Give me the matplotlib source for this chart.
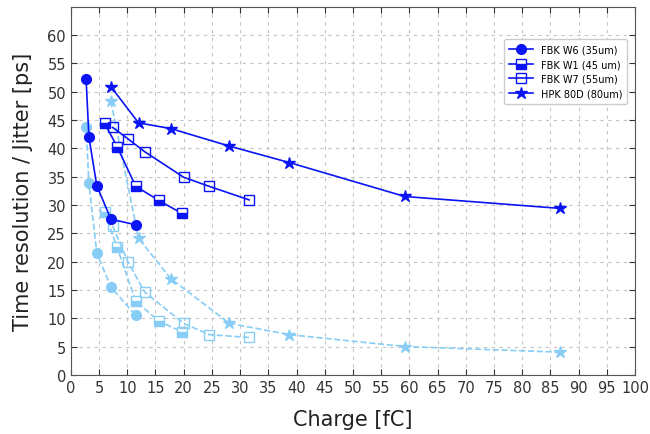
import matplotlib
matplotlib.use("Agg")
import matplotlib.pyplot as plt

# FBK W6 (35um)
w6_charge = [2.7, 3.2, 4.6, 7.1, 11.5]
w6_res = [52.3, 42.0, 33.4, 27.5, 26.5]
w6_jit = [43.8, 33.8, 21.5, 15.5, 10.5]

# FBK W1 (45 um)
w1_charge = [6.0, 8.2, 11.5, 15.6, 19.7]
w1_res = [44.4, 40.3, 33.3, 30.8, 28.5]
w1_jit = [28.8, 22.5, 13.0, 9.5, 7.6]

# FBK W7 (55um)
w7_charge = [7.4, 10.1, 13.1, 20.0, 24.5, 31.6]
w7_res = [43.7, 41.7, 39.4, 34.9, 33.3, 30.9]
w7_jit = [26.3, 20.0, 14.6, 9.1, 7.1, 6.6]

# HPK 80D (80um)
hpk_charge = [7.1, 12.0, 17.7, 28.1, 38.7, 59.2, 86.7]
hpk_res = [50.9, 44.5, 43.5, 40.4, 37.5, 31.5, 29.4]
hpk_jit = [48.3, 24.1, 17.0, 9.1, 7.1, 5.0, 4.0]

x_ticks = list(range(0, 101, 5))
y_ticks = list(range(0, 61, 5))

dark = "#0a14f5"
light = "#87cdf5"

fig = plt.figure(figsize=(6.5, 4.35), dpi=100)
ax = fig.add_axes([0.109, 0.136, 0.868, 0.846])

lw = 1.2
ms_c, ms_s, ms_st = 7, 7, 9
# resolution (dark, solid)
ax.plot(w6_charge, w6_res, '-', color=dark, lw=lw, marker='o', ms=ms_c, mfc=dark, mec=dark, label='FBK W6 (35um)', zorder=3)
ax.plot(w1_charge, w1_res, '-', color=dark, lw=lw, marker='s', ms=ms_s, fillstyle='bottom', mfc=dark, mfcalt='white', mec=dark, label='FBK W1 (45 um)', zorder=3)
ax.plot(w7_charge, w7_res, '-', color=dark, lw=lw, marker='s', ms=ms_s, mfc='none', mec=dark, mew=1.0, label='FBK W7 (55um)', zorder=3)
ax.plot(hpk_charge, hpk_res, '-', color=dark, lw=lw, marker='*', ms=ms_st, mfc=dark, mec=dark, label='HPK 80D (80um)', zorder=3)

# jitter (light, dashed)
ax.plot(w6_charge, w6_jit, '--', color=light, lw=lw, marker='o', ms=ms_c, mfc=light, mec=light, zorder=2)
ax.plot(w1_charge, w1_jit, '--', color=light, lw=lw, marker='s', ms=ms_s, fillstyle='bottom', mfc=light, mfcalt='white', mec=light, zorder=2)
ax.plot(w7_charge, w7_jit, '--', color=light, lw=lw, marker='s', ms=ms_s, mfc='none', mec=light, mew=1.0, zorder=2)
ax.plot(hpk_charge, hpk_jit, '--', color=light, lw=lw, marker='*', ms=ms_st, mfc=light, mec=light, zorder=2)

ax.set_xlim(0, 100)
ax.set_ylim(0, 65)
ax.set_xticks(x_ticks)
ax.set_yticks(y_ticks)
ax.tick_params(direction='in', top=True, right=True, labelsize=10.5, colors='#333333', length=4)
for s in ax.spines.values():
    s.set_color('#555555')
ax.grid(True, linestyle=(0, (3, 4)), color='#c4c4c4', lw=0.8)
ax.set_axisbelow(True)

ax.set_xlabel('Charge [fC]', fontsize=15, color='#222222', labelpad=10)
ax.set_ylabel('Time resolution / Jitter [ps]', fontsize=15, color='#222222', labelpad=10)

leg = ax.legend(loc='upper right', bbox_to_anchor=(0.995, 0.925), fontsize=7, frameon=True,
                fancybox=True, framealpha=1.0, edgecolor='#cccccc', borderpad=0.5, handlelength=2.5)

fig.savefig('out.png', dpi=100)
